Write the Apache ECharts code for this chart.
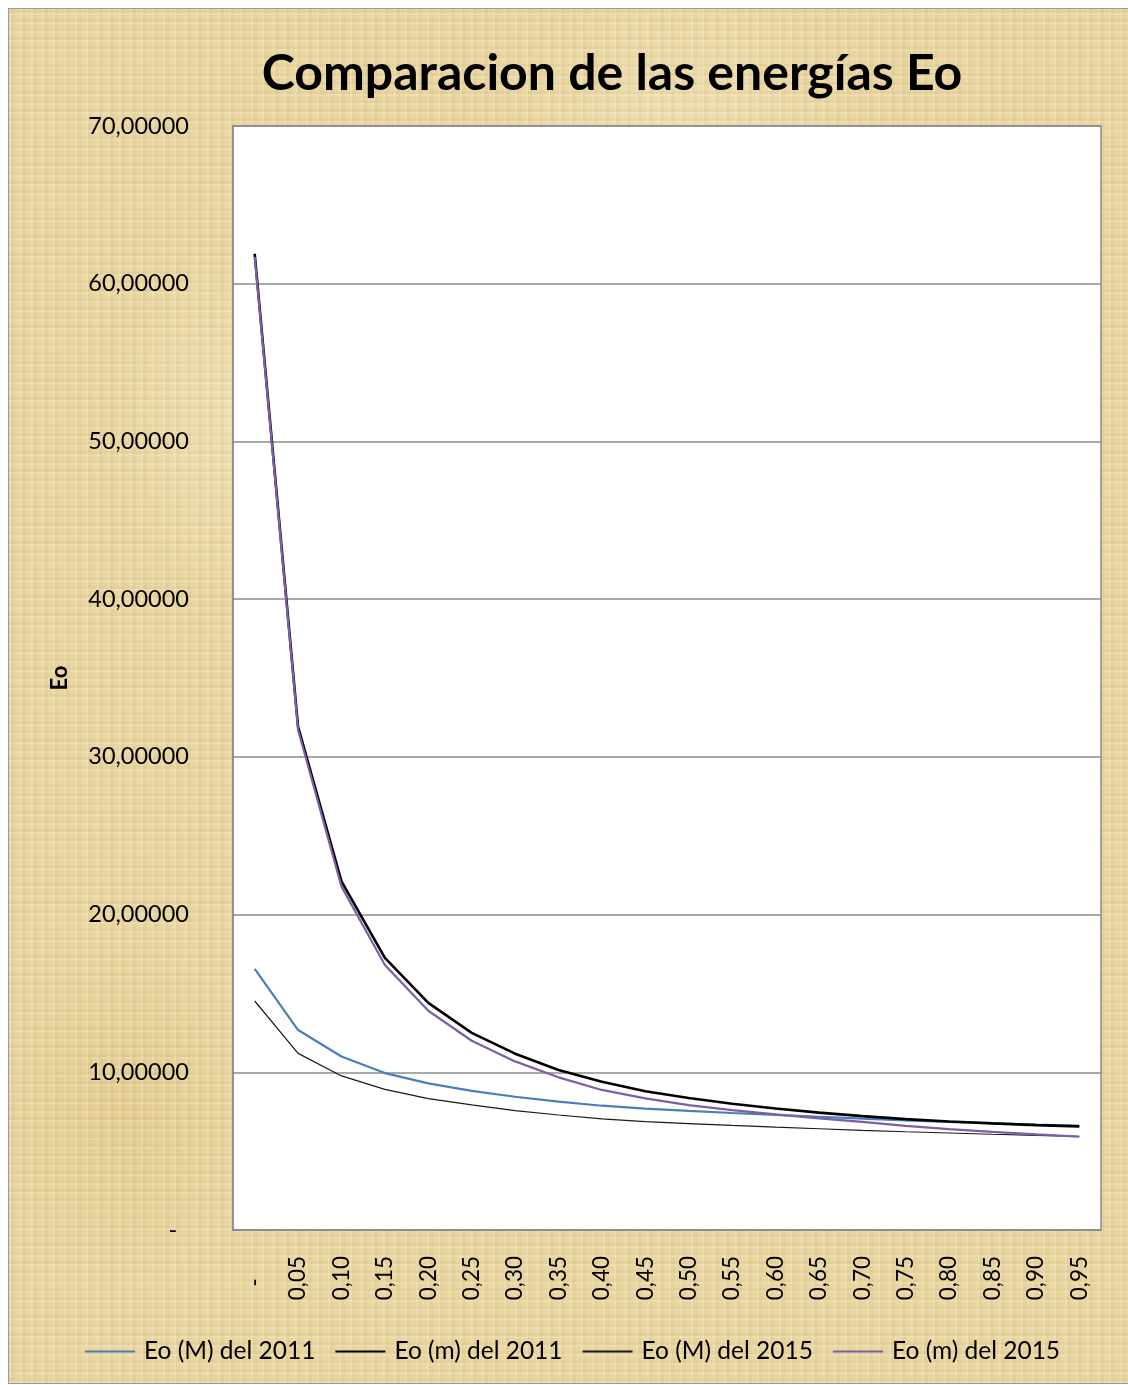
<!DOCTYPE html>
<html>
<head>
<meta charset="utf-8">
<script src="https://cdn.jsdelivr.net/npm/echarts@6/dist/echarts.min.js"></script>
<style>
  html, body { margin: 0; padding: 0; background: #ffffff; }
  #paper {
    position: absolute; left: 8px; top: 8px; width: 1119px; height: 1374px;
    border: 1px solid #9a9a9a;
    background-color: #e9d6a2;
    background-image:
      repeating-linear-gradient(0deg, rgba(255,250,230,0.16) 0 2px, rgba(150,115,40,0.05) 2px 5px, rgba(255,250,230,0.0) 5px 9px),
      repeating-linear-gradient(90deg, rgba(255,250,230,0.14) 0 2px, rgba(150,115,40,0.05) 2px 6px, rgba(255,250,230,0.0) 6px 11px),
      radial-gradient(ellipse 180px 260px at 20% 30%, rgba(243,230,190,0.55), rgba(243,230,190,0) 70%),
      radial-gradient(ellipse 220px 300px at 75% 70%, rgba(215,185,110,0.35), rgba(215,185,110,0) 70%),
      radial-gradient(ellipse 200px 240px at 10% 80%, rgba(220,190,120,0.35), rgba(220,190,120,0) 70%),
      radial-gradient(ellipse 260px 200px at 60% 8%, rgba(245,232,195,0.45), rgba(245,232,195,0) 70%);
  }
  #chart { position: absolute; left: 0; top: 0; width: 1128px; height: 1385px; }
</style>
</head>
<body>
<div id="paper"></div>
<div id="chart"></div>
<script>
// Category tick labels (ratio steps)
const xLabels = ['-', '0,05', '0,10', '0,15', '0,20', '0,25', '0,30', '0,35', '0,40', '0,45',
                 '0,50', '0,55', '0,60', '0,65', '0,70', '0,75', '0,80', '0,85', '0,90', '0,95'];

// Energy series
const eoM2011 = [16.55, 12.68, 11.00, 9.95, 9.30, 8.82, 8.45, 8.14, 7.88, 7.70,
                 7.55, 7.42, 7.30, 7.18, 7.06, 6.95, 6.86, 6.77, 6.68, 6.60];
const eom2011 = [61.90, 31.90, 22.10, 17.25, 14.40, 12.50, 11.18, 10.15, 9.40, 8.80,
                 8.37, 8.00, 7.70, 7.44, 7.22, 7.03, 6.88, 6.76, 6.65, 6.57];
const eoM2015 = [14.52, 11.20, 9.77, 8.92, 8.33, 7.93, 7.57, 7.29, 7.04, 6.87,
                 6.75, 6.63, 6.52, 6.42, 6.32, 6.23, 6.15, 6.07, 6.00, 5.93];
const eom2015 = [61.70, 31.70, 21.77, 16.80, 13.90, 12.00, 10.69, 9.68, 8.88, 8.35,
                 7.92, 7.60, 7.33, 7.08, 6.85, 6.60, 6.40, 6.22, 6.06, 5.92];

const seriesNames = ['Eo (M) del 2011', 'Eo (m) del 2011', 'Eo (M) del 2015', 'Eo (m) del 2015'];
const titleText = 'Comparacion de las energías Eo';

const FONT = 'Lato, "Open Sans", sans-serif';

const chart = echarts.init(document.getElementById('chart'), null, { renderer: 'canvas' });

function fmtY(v) {
  if (v === 0) return '-\u2002';
  return v.toFixed(5).replace('.', ',');
}

function lineSeries(name, data, color, width, z) {
  return {
    name, type: 'line', data, symbol: 'none', z,
    lineStyle: { color, width },
    itemStyle: { color }
  };
}

chart.setOption({
  backgroundColor: 'transparent',
  animation: false,
  graphic: [{
    type: 'text',
    x: 612, y: 74,
    style: {
      text: titleText,
      textAlign: 'center',
      textVerticalAlign: 'middle',
      font: 'bold 50px ' + FONT,
      fill: '#000'
    }
  }],
  grid: {
    left: 233, right: 27, top: 126, bottom: 155,
    show: true,
    backgroundColor: '#ffffff',
    borderColor: '#8c8c8c',
    borderWidth: 1.5
  },
  legend: {
    left: 80, top: 1334,
    icon: 'rect',
    itemWidth: 50, itemHeight: 2, itemGap: 20,
    textStyle: { fontFamily: FONT, fontSize: 24.5, color: '#000', padding: [0, 0, 0, 4] },
    data: seriesNames
  },
  xAxis: {
    type: 'category',
    data: xLabels,
    boundaryGap: true,
    axisLine: { lineStyle: { color: '#8c8c8c', width: 1.5 } },
    axisTick: { show: false },
    axisLabel: {
      rotate: 90,
      margin: 26,
      fontFamily: FONT,
      fontSize: 22.5,
      color: '#000',
      formatter: v => v === '-' ? '-\u2002\u2002' : v
    }
  },
  yAxis: {
    type: 'value',
    min: 0, max: 70, interval: 10,
    name: 'Eo',
    nameLocation: 'middle',
    nameGap: 162,
    nameTextStyle: { fontFamily: FONT, fontSize: 22, fontWeight: 'bold', color: '#000' },
    axisLine: { show: true, lineStyle: { color: '#8c8c8c', width: 1.5 } },
    axisTick: { show: false },
    splitLine: { lineStyle: { color: '#8c8c8c', width: 1.5 } },
    axisLabel: {
      margin: 44,
      fontFamily: FONT,
      fontSize: 23.5,
      color: '#000',
      formatter: fmtY
    }
  },
  series: [
    lineSeries(seriesNames[0], eoM2011, '#4a7ebb', 2.2, 2),
    lineSeries(seriesNames[1], eom2011, '#000000', 2.6, 3),
    lineSeries(seriesNames[2], eoM2015, '#1a1a1a', 1.2, 2),
    lineSeries(seriesNames[3], eom2015, '#7d5fa6', 2.2, 4)
  ]
});
</script>
</body>
</html>
